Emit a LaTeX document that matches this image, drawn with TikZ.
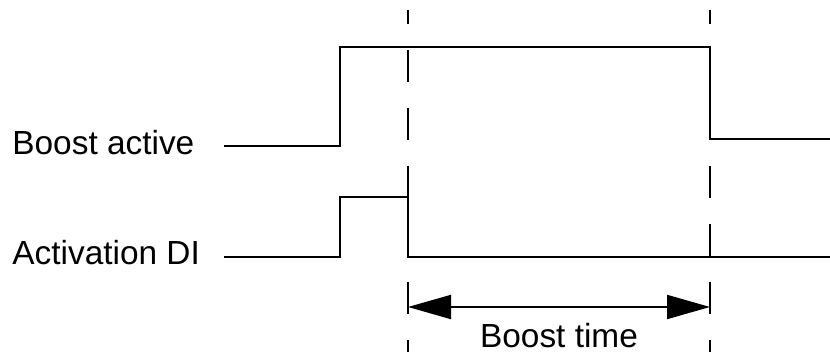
\documentclass[tikz,border=0pt]{standalone}
\usepackage{fontspec}
\setmainfont{Liberation Sans}
\usepackage{tikz}
\usetikzlibrary{arrows.meta,positioning,calc}

\begin{document}
\begin{tikzpicture}[
        x=0.5pt, y=-0.5pt,
        sig/.style={line width=1pt},
        guide/.style={line width=1pt, dash pattern=on 16pt off 13pt, dash phase=9pt},
        dim/.style={line width=1pt, {Triangle[length=21.5pt, width=12pt]}-{Triangle[length=21.5pt, width=12pt]}},
        lbl/.style={font=\fontsize{16.7}{19}\selectfont, inner sep=0pt}]
        \useasboundingbox (0,0) rectangle (830,352);
        \node[lbl, anchor=base west] (boost) at (12,155) {Boost active};
        \node[lbl, anchor=base west] (actdi) at (12,265) {Activation DI};
        \node[lbl, anchor=base] (btime) at (559,348) {Boost time};
        \coordinate (ba0) at (224,146);
        \coordinate (ba1) at (340,47);
        \coordinate (ba2) at (710,139);
        \coordinate (ba3) at (830,139);
        \coordinate (di0) at (224,257);
        \coordinate (di1) at (340,197);
        \coordinate (di2) at (408,257);
        \coordinate (di3) at (830,257);
        \coordinate (g1top) at (408,10);
        \coordinate (g1bot) at (408,352);
        \coordinate (g2top) at (710,10);
        \coordinate (g2bot) at (710,352);
        \coordinate (bt1) at (408,307);
        \coordinate (bt2) at (710,307);
        \draw[sig] (ba0) -| (ba1) -| (ba2) -- (ba3);
        \draw[sig] (di0) -| (di1) -| (di2) -- (di3);
        \draw[guide] (g1top) -- (g1bot);
        \draw[guide] (g2top) -- (g2bot);
        \draw[dim] (bt1) -- (bt2);
      \end{tikzpicture}
\end{document}
